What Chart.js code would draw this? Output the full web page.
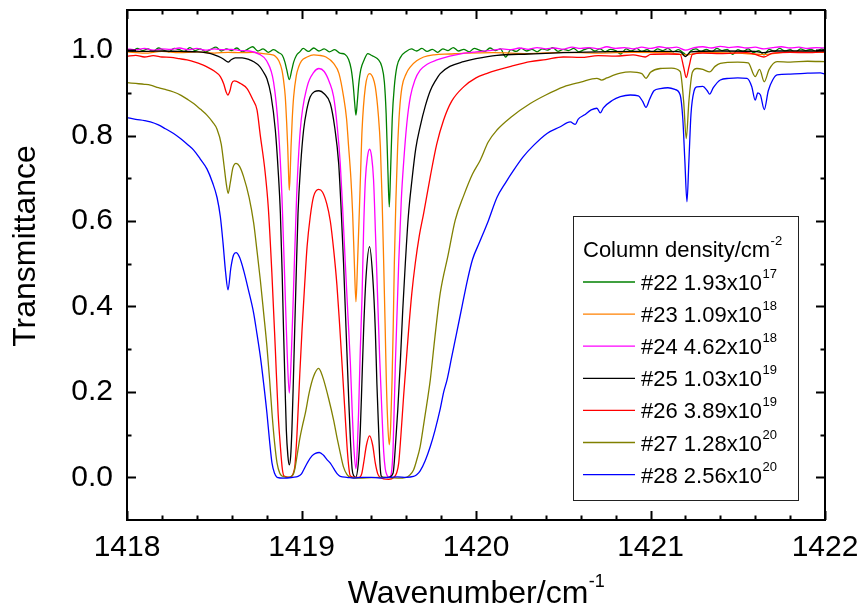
<!DOCTYPE html>
<html>
<head>
<meta charset="utf-8">
<script src="https://cdn.jsdelivr.net/npm/chart.js@4.4.1/dist/chart.umd.min.js"></script>
<style>
  html, body { margin: 0; padding: 0; background: #fff; }
  #wrap { width: 861px; height: 611px; }
</style>
</head>
<body>
<div id="wrap"><canvas id="c" width="861" height="611"></canvas></div>
<script>
// ---------------- DATA ----------------
const xTickValues = [1418, 1419, 1420, 1421, 1422];
const yTickValues = [0.0, 0.2, 0.4, 0.6, 0.8, 1.0];

const seriesLabels = ['#22', '#23', '#24', '#25', '#26', '#27', '#28'];
const densityMantissa = ['1.93', '1.09', '4.62', '1.03', '3.89', '1.28', '2.56'];
const densityExponent = ['17', '18', '18', '19', '19', '20', '20'];
const legendTitle = 'Column density/cm';
const legendTitleExp = '-2';
const xTitle = 'Wavenumber/cm';
const xTitleExp = '-1';
const yTitle = 'Transmittance';

// #22
const wn22 = [1418.00,1418.03,1418.06,1418.09,1418.12,1418.15,1418.18,1418.21,1418.24,1418.27,1418.30,1418.33,1418.36,1418.39,1418.42,1418.45,1418.48,1418.51,1418.54,1418.57,1418.60,1418.63,1418.66,1418.69,1418.72,1418.75,1418.78,1418.81,1418.84,1418.87,1418.89,1418.905,1418.915,1418.93,1418.945,1418.955,1418.97,1418.99,1419.01,1419.04,1419.07,1419.10,1419.13,1419.16,1419.19,1419.22,1419.25,1419.27,1419.285,1419.297,1419.305,1419.312,1419.32,1419.328,1419.34,1419.36,1419.38,1419.40,1419.42,1419.44,1419.46,1419.475,1419.485,1419.495,1419.503,1419.51,1419.52,1419.532,1419.547,1419.57,1419.60,1419.63,1419.66,1419.69,1419.72,1419.75,1419.78,1419.81,1419.84,1419.87,1419.90,1419.93,1419.96,1419.99,1420.02,1420.05,1420.08,1420.11,1420.14,1420.17,1420.20,1420.23,1420.26,1420.29,1420.32,1420.35,1420.38,1420.41,1420.44,1420.47,1420.50,1420.53,1420.56,1420.59,1420.62,1420.65,1420.68,1420.71,1420.74,1420.77,1420.80,1420.83,1420.86,1420.89,1420.92,1420.95,1420.98,1421.01,1421.04,1421.07,1421.10,1421.13,1421.16,1421.19,1421.21,1421.23,1421.26,1421.29,1421.32,1421.35,1421.38,1421.41,1421.44,1421.47,1421.50,1421.53,1421.56,1421.59,1421.62,1421.65,1421.68,1421.71,1421.74,1421.77,1421.80,1421.83,1421.86,1421.89,1421.92,1421.95,1421.98,1422.00];
const tr22 = [1.002,0.998,1.004,0.999,1.003,0.997,1.005,1.000,0.996,1.004,1.001,0.997,1.006,0.999,1.003,0.996,1.002,1.007,0.998,1.003,0.999,1.005,0.996,1.002,1.008,0.998,1.003,0.995,1.001,0.994,0.988,0.972,0.955,0.931,0.955,0.972,0.987,0.996,1.004,0.997,1.005,0.998,1.003,0.996,1.001,0.993,0.990,0.978,0.955,0.915,0.875,0.848,0.880,0.920,0.955,0.978,0.992,0.988,0.984,0.978,0.962,0.925,0.852,0.720,0.633,0.710,0.840,0.915,0.962,0.985,0.997,1.003,0.998,1.004,0.997,1.002,0.995,1.003,0.999,1.006,0.998,1.002,0.996,1.004,1.000,0.997,1.005,0.999,1.003,0.984,1.001,0.997,1.004,0.998,1.002,0.996,1.003,1.000,1.006,0.997,1.002,0.999,1.004,0.996,1.001,1.005,0.998,1.003,0.996,1.002,0.999,0.991,1.003,0.998,1.004,0.997,1.001,0.995,1.003,0.999,1.004,0.996,1.001,0.993,0.988,0.998,1.003,0.997,1.002,0.996,1.004,0.999,1.002,0.990,1.001,0.997,1.003,0.994,0.999,0.989,1.002,0.997,1.004,0.998,1.001,0.995,1.003,0.999,1.002,0.996,1.003,1.000];

// #23
const wn23 = [1418.00,1418.10,1418.20,1418.30,1418.40,1418.50,1418.58,1418.65,1418.72,1418.78,1418.82,1418.85,1418.87,1418.888,1418.90,1418.907,1418.915,1418.921,1418.926,1418.93,1418.935,1418.94,1418.947,1418.955,1418.97,1418.984,1419.00,1419.032,1419.07,1419.10,1419.14,1419.184,1419.215,1419.241,1419.258,1419.27,1419.283,1419.293,1419.303,1419.312,1419.321,1419.331,1419.34,1419.347,1419.366,1419.39,1419.41,1419.423,1419.44,1419.452,1419.462,1419.471,1419.479,1419.486,1419.495,1419.503,1419.511,1419.519,1419.526,1419.532,1419.541,1419.551,1419.562,1419.576,1419.60,1419.624,1419.66,1419.70,1419.76,1419.85,1419.95,1420.10,1420.30,1420.50,1420.70,1420.90,1421.10,1421.20,1421.30,1421.50,1421.65,1421.80,1422.00];
const tr23 = [0.996,0.993,0.997,0.994,0.996,0.993,0.995,0.994,0.995,0.992,0.990,0.986,0.975,0.953,0.920,0.891,0.830,0.774,0.710,0.672,0.710,0.774,0.840,0.891,0.940,0.961,0.975,0.984,0.989,0.988,0.984,0.969,0.945,0.891,0.840,0.774,0.700,0.618,0.500,0.411,0.500,0.618,0.730,0.813,0.914,0.945,0.935,0.914,0.850,0.774,0.650,0.501,0.360,0.228,0.120,0.076,0.120,0.228,0.360,0.501,0.650,0.774,0.860,0.914,0.945,0.961,0.975,0.984,0.989,0.991,0.993,0.994,0.992,0.995,0.993,0.995,0.994,0.989,0.995,0.993,0.990,0.996,0.995];

// #24
const wn24 = [1418.00,1418.05,1418.10,1418.15,1418.20,1418.25,1418.30,1418.35,1418.40,1418.45,1418.50,1418.55,1418.60,1418.65,1418.70,1418.76,1418.80,1418.84,1418.868,1418.888,1418.907,1418.918,1418.93,1418.942,1418.953,1418.972,1418.993,1419.032,1419.07,1419.10,1419.13,1419.16,1419.184,1419.205,1419.222,1419.237,1419.251,1419.266,1419.28,1419.29,1419.30,1419.312,1419.32,1419.327,1419.337,1419.347,1419.356,1419.366,1419.378,1419.39,1419.402,1419.413,1419.424,1419.436,1419.448,1419.461,1419.471,1419.48,1419.49,1419.503,1419.515,1419.525,1419.538,1419.557,1419.572,1419.585,1419.604,1419.624,1419.65,1419.68,1419.72,1419.776,1419.85,1419.92,1420.00,1420.10,1420.15,1420.20,1420.25,1420.30,1420.35,1420.40,1420.45,1420.50,1420.55,1420.60,1420.65,1420.70,1420.75,1420.80,1420.85,1420.90,1420.95,1421.00,1421.05,1421.10,1421.15,1421.20,1421.25,1421.30,1421.35,1421.40,1421.45,1421.50,1421.55,1421.60,1421.65,1421.70,1421.75,1421.80,1421.85,1421.90,1421.95,1422.00];
const tr24 = [1.003,1.001,1.004,1.000,1.003,1.002,1.005,1.001,1.004,1.000,1.003,1.001,1.002,0.999,0.998,0.990,0.975,0.925,0.813,0.657,0.423,0.290,0.197,0.290,0.423,0.657,0.813,0.914,0.948,0.957,0.950,0.925,0.891,0.820,0.735,0.620,0.501,0.380,0.267,0.160,0.070,0.020,0.070,0.150,0.300,0.423,0.580,0.696,0.750,0.768,0.750,0.696,0.570,0.423,0.280,0.150,0.060,0.020,0.005,0.000,0.010,0.070,0.267,0.501,0.650,0.735,0.830,0.891,0.930,0.953,0.967,0.977,0.986,0.992,0.996,1.000,1.003,1.001,1.005,1.002,1.006,1.003,1.005,1.002,1.007,1.004,1.006,1.003,1.008,1.004,1.006,1.003,1.007,1.004,1.008,1.005,1.007,1.000,1.006,1.008,1.005,1.009,1.006,1.008,1.005,1.007,1.003,1.006,1.008,1.005,1.007,1.004,1.006,1.005];

// #25
const wn25 = [1418.00,1418.10,1418.20,1418.30,1418.40,1418.48,1418.52,1418.55,1418.57,1418.58,1418.595,1418.62,1418.66,1418.70,1418.726,1418.76,1418.78,1418.802,1418.825,1418.85,1418.866,1418.879,1418.889,1418.897,1418.906,1418.913,1418.922,1418.93,1418.938,1418.945,1418.953,1418.961,1418.97,1418.98,1418.995,1419.012,1419.03,1419.05,1419.075,1419.10,1419.13,1419.165,1419.19,1419.213,1419.228,1419.241,1419.255,1419.27,1419.28,1419.29,1419.30,1419.31,1419.325,1419.337,1419.346,1419.356,1419.37,1419.39,1419.408,1419.423,1419.432,1419.442,1419.45,1419.457,1419.47,1419.50,1419.525,1419.538,1419.552,1419.566,1419.58,1419.595,1419.612,1419.633,1419.655,1419.68,1419.71,1419.738,1419.77,1419.795,1419.85,1419.929,1420.00,1420.12,1420.30,1420.50,1420.70,1420.90,1421.10,1421.17,1421.20,1421.23,1421.40,1421.60,1421.65,1421.70,1422.00];
const tr25 = [0.998,0.997,0.998,0.997,0.996,0.992,0.986,0.980,0.974,0.972,0.977,0.982,0.982,0.978,0.973,0.962,0.950,0.933,0.895,0.813,0.720,0.618,0.480,0.345,0.210,0.111,0.050,0.029,0.050,0.111,0.220,0.345,0.480,0.618,0.730,0.813,0.860,0.891,0.903,0.905,0.898,0.875,0.820,0.735,0.620,0.501,0.350,0.189,0.090,0.020,0.003,0.000,0.030,0.111,0.220,0.345,0.470,0.540,0.470,0.345,0.220,0.111,0.030,0.003,0.000,0.000,0.010,0.072,0.160,0.267,0.390,0.501,0.610,0.696,0.770,0.821,0.870,0.905,0.930,0.945,0.962,0.973,0.980,0.988,0.991,0.994,0.996,0.997,0.997,0.996,0.985,0.996,0.998,0.997,0.994,0.998,0.998];

// #26
const wn26 = [1418.00,1418.05,1418.10,1418.15,1418.20,1418.25,1418.30,1418.344,1418.39,1418.43,1418.458,1418.50,1418.535,1418.555,1418.568,1418.578,1418.59,1418.60,1418.615,1418.65,1418.688,1418.72,1418.745,1418.764,1418.79,1418.81,1418.83,1418.85,1418.866,1418.879,1418.89,1418.90,1418.93,1418.96,1418.974,1418.99,1419.003,1419.018,1419.032,1419.05,1419.069,1419.098,1419.12,1419.145,1419.165,1419.185,1419.203,1419.218,1419.232,1419.248,1419.261,1419.272,1419.28,1419.30,1419.33,1419.345,1419.356,1419.372,1419.39,1419.408,1419.423,1419.437,1419.45,1419.50,1419.53,1419.545,1419.557,1419.57,1419.585,1419.60,1419.614,1419.632,1419.652,1419.675,1419.70,1419.738,1419.775,1419.814,1419.86,1419.929,1420.00,1420.06,1420.12,1420.20,1420.311,1420.40,1420.50,1420.60,1420.70,1420.80,1420.90,1420.97,1421.00,1421.10,1421.17,1421.19,1421.205,1421.22,1421.24,1421.30,1421.40,1421.55,1421.60,1421.65,1421.70,1421.80,1421.90,1422.00];
const tr26 = [0.986,0.988,0.984,0.987,0.984,0.983,0.980,0.977,0.972,0.966,0.961,0.951,0.938,0.920,0.902,0.895,0.905,0.922,0.928,0.922,0.910,0.885,0.860,0.800,0.720,0.630,0.480,0.300,0.150,0.072,0.020,0.003,0.000,0.020,0.100,0.240,0.345,0.450,0.540,0.610,0.657,0.674,0.668,0.640,0.600,0.530,0.450,0.360,0.267,0.160,0.072,0.020,0.003,0.000,0.000,0.008,0.033,0.075,0.097,0.075,0.033,0.008,0.000,-0.005,0.000,0.010,0.033,0.100,0.189,0.270,0.345,0.430,0.501,0.565,0.618,0.704,0.780,0.836,0.880,0.914,0.935,0.945,0.953,0.962,0.973,0.978,0.984,0.983,0.987,0.986,0.989,0.984,0.990,0.991,0.990,0.960,0.936,0.960,0.990,0.993,0.992,0.994,0.990,0.984,0.993,0.995,0.994,0.996];

// #27
const wn27 = [1418.00,1418.05,1418.10,1418.134,1418.18,1418.22,1418.267,1418.31,1418.35,1418.382,1418.42,1418.458,1418.49,1418.516,1418.54,1418.556,1418.568,1418.58,1418.592,1418.607,1418.625,1418.645,1418.668,1418.70,1418.726,1418.745,1418.764,1418.783,1418.802,1418.817,1418.831,1418.846,1418.86,1418.875,1418.888,1418.92,1418.95,1418.962,1418.974,1418.99,1419.005,1419.022,1419.045,1419.069,1419.098,1419.113,1419.127,1419.155,1419.184,1419.205,1419.222,1419.24,1419.261,1419.28,1419.35,1419.45,1419.55,1419.60,1419.62,1419.642,1419.66,1419.68,1419.695,1419.71,1419.725,1419.738,1419.765,1419.795,1419.84,1419.881,1419.93,1419.98,1420.025,1420.07,1420.12,1420.20,1420.311,1420.40,1420.502,1420.60,1420.693,1420.72,1420.75,1420.827,1420.884,1420.95,1420.974,1421.00,1421.056,1421.12,1421.17,1421.19,1421.205,1421.22,1421.24,1421.266,1421.30,1421.339,1421.37,1421.40,1421.50,1421.56,1421.60,1421.625,1421.652,1421.68,1421.725,1421.80,1421.90,1422.00];
const tr27 = [0.924,0.922,0.920,0.918,0.912,0.908,0.902,0.894,0.884,0.875,0.862,0.848,0.832,0.815,0.780,0.730,0.690,0.665,0.690,0.725,0.735,0.728,0.704,0.655,0.595,0.530,0.462,0.385,0.306,0.230,0.150,0.080,0.033,0.010,0.003,0.000,0.005,0.020,0.049,0.090,0.120,0.150,0.200,0.236,0.255,0.245,0.228,0.185,0.134,0.090,0.057,0.025,0.006,0.000,-0.002,0.000,-0.002,0.000,0.005,0.017,0.040,0.072,0.110,0.150,0.190,0.228,0.330,0.431,0.520,0.602,0.660,0.710,0.743,0.785,0.813,0.843,0.875,0.895,0.914,0.925,0.934,0.930,0.935,0.946,0.949,0.945,0.934,0.948,0.957,0.958,0.950,0.880,0.793,0.880,0.948,0.957,0.955,0.949,0.962,0.969,0.972,0.970,0.938,0.955,0.926,0.955,0.973,0.972,0.974,0.973];

// #28
const wn28 = [1418.00,1418.05,1418.10,1418.134,1418.18,1418.22,1418.267,1418.31,1418.35,1418.382,1418.42,1418.458,1418.49,1418.516,1418.535,1418.55,1418.565,1418.579,1418.595,1418.61,1418.625,1418.645,1418.668,1418.695,1418.726,1418.745,1418.764,1418.783,1418.802,1418.817,1418.831,1418.845,1418.86,1418.90,1418.95,1418.98,1419.00,1419.012,1419.035,1419.06,1419.08,1419.102,1419.125,1419.145,1419.165,1419.19,1419.205,1419.222,1419.26,1419.30,1419.35,1419.40,1419.45,1419.50,1419.55,1419.60,1419.642,1419.66,1419.68,1419.71,1419.738,1419.765,1419.795,1419.815,1419.834,1419.86,1419.89,1419.92,1419.95,1419.98,1420.02,1420.072,1420.12,1420.17,1420.216,1420.27,1420.33,1420.407,1420.48,1420.54,1420.569,1420.585,1420.62,1420.66,1420.693,1420.712,1420.73,1420.78,1420.827,1420.884,1420.93,1420.955,1420.974,1420.995,1421.02,1421.056,1421.10,1421.14,1421.17,1421.185,1421.197,1421.209,1421.22,1421.232,1421.25,1421.266,1421.30,1421.325,1421.339,1421.36,1421.40,1421.45,1421.50,1421.553,1421.58,1421.60,1421.615,1421.63,1421.652,1421.675,1421.70,1421.725,1421.80,1421.90,1421.973,1422.00];
const tr28 = [0.842,0.838,0.835,0.832,0.825,0.816,0.805,0.792,0.778,0.766,0.745,0.722,0.690,0.655,0.610,0.550,0.480,0.439,0.490,0.520,0.526,0.515,0.485,0.440,0.384,0.335,0.283,0.220,0.150,0.085,0.033,0.010,0.000,-0.002,0.000,0.002,0.008,0.017,0.035,0.050,0.056,0.058,0.052,0.042,0.033,0.017,0.008,0.002,0.000,-0.002,0.000,0.000,-0.002,0.000,0.001,0.000,0.002,0.006,0.015,0.040,0.072,0.110,0.160,0.200,0.228,0.280,0.340,0.400,0.460,0.510,0.550,0.602,0.655,0.690,0.719,0.750,0.777,0.805,0.820,0.832,0.826,0.838,0.848,0.860,0.864,0.853,0.865,0.882,0.891,0.895,0.893,0.880,0.866,0.885,0.905,0.910,0.912,0.908,0.895,0.840,0.740,0.645,0.740,0.850,0.905,0.914,0.915,0.905,0.897,0.912,0.930,0.934,0.935,0.934,0.915,0.883,0.900,0.895,0.861,0.905,0.930,0.942,0.944,0.946,0.947,0.944];

const seriesColors = ['#008000', '#ff8000', '#ff00ff', '#000000', '#ff0000', '#808000', '#0000ff'];
const seriesWn = [wn22, wn23, wn24, wn25, wn26, wn27, wn28];
const seriesTr = [tr22, tr23, tr24, tr25, tr26, tr27, tr28];

// ---------------- CHART ----------------
const FONT = '"Liberation Sans", Arial, Helvetica, sans-serif';

const datasets = seriesLabels.map((lab, i) => ({
  label: lab + ' ' + densityMantissa[i] + 'x10^' + densityExponent[i],
  data: seriesWn[i].map((w, k) => ({ x: w, y: seriesTr[i][k] })),
  borderColor: seriesColors[i],
  backgroundColor: seriesColors[i],
  borderWidth: 1.3,
  pointRadius: 0,
  fill: false,
  cubicInterpolationMode: 'monotone',
  order: seriesLabels.length - 1 - i
}));

function drawSupText(ctx, x, y, main, sup, mainFont, supFont, supRise, align) {
  ctx.font = mainFont;
  const wMain = ctx.measureText(main).width;
  ctx.font = supFont;
  const wSup = ctx.measureText(sup).width;
  let x0 = x;
  if (align === 'center') x0 = x - (wMain + wSup) / 2;
  ctx.textAlign = 'left';
  ctx.textBaseline = 'alphabetic';
  ctx.font = mainFont;
  ctx.fillText(main, x0, y);
  ctx.font = supFont;
  ctx.fillText(sup, x0 + wMain + 0.5, y - supRise);
}

function zeroPad(s) {
  s.paddingTop = 0; s.paddingBottom = 0; s.paddingLeft = 0; s.paddingRight = 0;
}

const decorPlugin = {
  id: 'decor',
  afterDraw(chart) {
    const { ctx, chartArea: a, scales: { x, y } } = chart;
    ctx.save();
    ctx.fillStyle = '#000';
    ctx.strokeStyle = '#000';

    // frame
    ctx.lineWidth = 2;
    ctx.strokeRect(a.left, a.top, a.right - a.left, a.bottom - a.top);

    // x ticks (major 1, minor 0.2), inward on bottom and top
    const xmin = xTickValues[0], xmax = xTickValues[xTickValues.length - 1];
    const nx = Math.round((xmax - xmin) / 0.2);
    for (let k = 0; k <= nx; k++) {
      const v = xmin + k * 0.2;
      const px = Math.round(x.getPixelForValue(v)) + 0.5;
      const len = (k % 5 === 0) ? 9 : 4.5;
      ctx.beginPath();
      ctx.moveTo(px, a.bottom); ctx.lineTo(px, a.bottom - len);
      ctx.moveTo(px, a.top); ctx.lineTo(px, a.top + len);
      ctx.stroke();
    }
    // y ticks (major 0.2, minor 0.1)
    for (let k = -1; k <= 10; k++) {
      const v = k * 0.1;
      const py = Math.round(y.getPixelForValue(v)) + 0.5;
      if (py < a.top || py > a.bottom) continue;
      const len = (k % 2 === 0) ? 9 : 4.5;
      ctx.beginPath();
      ctx.moveTo(a.left, py); ctx.lineTo(a.left + len, py);
      ctx.moveTo(a.right, py); ctx.lineTo(a.right - len, py);
      ctx.stroke();
    }

    // axis titles
    ctx.fillStyle = '#000';
    drawSupText(ctx, (a.left + a.right) / 2, 603, xTitle, xTitleExp,
      '32px ' + FONT, '18px ' + FONT, 16, 'center');
    ctx.save();
    ctx.translate(35, 246);
    ctx.rotate(-Math.PI / 2);
    ctx.font = '32px ' + FONT;
    ctx.textAlign = 'center';
    ctx.textBaseline = 'alphabetic';
    ctx.fillText(yTitle, 0, 0);
    ctx.restore();

    // legend box
    const bx = 573, by = 216, bw = 225, bh = 284;
    ctx.fillStyle = '#fff';
    ctx.fillRect(bx, by, bw, bh);
    ctx.lineWidth = 1;
    ctx.strokeStyle = '#222';
    ctx.strokeRect(bx + 0.5, by + 0.5, bw, bh);
    ctx.fillStyle = '#000';
    drawSupText(ctx, 583, 257, legendTitle, legendTitleExp,
      '22px ' + FONT, '13px ' + FONT, 12, 'left');
    for (let i = 0; i < seriesLabels.length; i++) {
      const base = 290 + i * 32.1;
      const cy = base - 8;
      ctx.strokeStyle = seriesColors[i];
      ctx.lineWidth = 1.3;
      ctx.beginPath();
      ctx.moveTo(583, cy); ctx.lineTo(635, cy);
      ctx.stroke();
      ctx.fillStyle = '#000';
      drawSupText(ctx, 641, base, seriesLabels[i] + ' ' + densityMantissa[i] + 'x10',
        densityExponent[i], '22px ' + FONT, '13px ' + FONT, 12, 'left');
    }
    ctx.restore();
  }
};

new Chart(document.getElementById('c'), {
  type: 'line',
  data: { datasets },
  options: {
    responsive: false,
    animation: false,
    events: [],
    layout: { padding: { left: 0, right: 36, top: 10, bottom: 0 } },
    plugins: { legend: { display: false }, tooltip: { enabled: false }, title: { display: false } },
    scales: {
      x: {
        type: 'linear',
        min: 1418, max: 1422,
        grid: { display: false, drawTicks: false },
        border: { display: false },
        afterBuildTicks: (s) => { s.ticks = xTickValues.map(v => ({ value: v })); },
        afterFit: (s) => { s.height = 91; zeroPad(s); },
        ticks: {
          color: '#000',
          font: { family: FONT, size: 30 },
          padding: 10,
          maxRotation: 0,
          callback: (v) => String(v)
        }
      },
      y: {
        type: 'linear',
        min: -0.1, max: 1.094,
        grid: { display: false, drawTicks: false },
        border: { display: false },
        afterBuildTicks: (s) => { s.ticks = yTickValues.map(v => ({ value: v })); },
        afterFit: (s) => { s.width = 127; zeroPad(s); },
        ticks: {
          color: '#000',
          font: { family: FONT, size: 30 },
          padding: 14,
          callback: (v) => Number(v).toFixed(1)
        }
      }
    }
  },
  plugins: [decorPlugin]
});
</script>
</body>
</html>
